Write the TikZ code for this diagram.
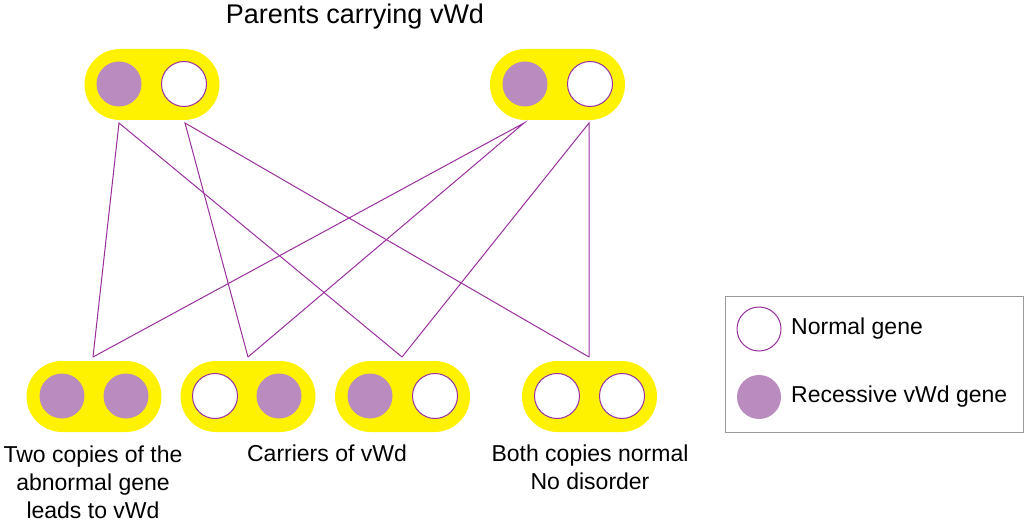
\documentclass[tikz,border=0pt]{standalone}
\usepackage{fontspec}
\setmainfont{Liberation Sans}
\definecolor{pillyellow}{HTML}{FFF200}
\definecolor{genepurple}{HTML}{B98BBE}
\definecolor{linepurple}{HTML}{9A2F9E}
\definecolor{boxgray}{HTML}{9A9A9A}
\tikzset{
  pill/.style={fill=pillyellow, draw=none, rounded corners=35.5pt, minimum width=135pt, minimum height=71pt, inner sep=0pt},
  rec/.style={circle, fill=genepurple, draw=none, minimum size=45pt, inner sep=0pt},
  nor/.style={circle, fill=white, draw=linepurple, line width=1pt, minimum size=45pt, inner sep=0pt},
  link/.style={draw=linepurple, line width=1pt},
  lbl/.style={font=\fontsize{23}{28}\selectfont, align=center, inner sep=0pt, anchor=base}
}
\begin{document}
\begin{tikzpicture}[x=1pt, y=-1pt]
\useasboundingbox (0,0) rectangle (1024,526);
% title
\node[lbl, font=\fontsize{27}{32}\selectfont] (title) at (355,24) {Parents carrying vWd};
% parents
\node[pill] (P1) at (152,84.5) {};
\node[rec] (P1a) at (119,84) {};
\node[nor] (P1b) at (184,84) {};
\node[pill] (P2) at (557.5,84.5) {};
\node[rec] (P2a) at (525,84) {};
\node[nor] (P2b) at (590,84) {};
% children
\node[pill] (C1) at (94,396.5) {};
\node[rec] (C1a) at (62,396) {};
\node[rec] (C1b) at (126,396) {};
\node[pill] (C2) at (248,396.5) {};
\node[nor] (C2a) at (215,396) {};
\node[rec] (C2b) at (279,396) {};
\node[pill] (C3) at (402.5,396.5) {};
\node[rec] (C3a) at (370,396) {};
\node[nor] (C3b) at (435,396) {};
\node[pill] (C4) at (589.5,396.5) {};
\node[nor] (C4a) at (557,396) {};
\node[nor] (C4b) at (622,396) {};
% connector ends
\coordinate (p1a) at (119,123);
\coordinate (p1b) at (185,123);
\coordinate (p2a) at (524,123);
\coordinate (p2b) at (589,123);
\coordinate (c1) at (93,357);
\coordinate (c2) at (248,357);
\coordinate (c3) at (402,357);
\coordinate (c4) at (589,357);
\draw[link] (c1) -- (p1a) -- (c3);
\draw[link] (c2) -- (p1b) -- (c4);
\draw[link] (c1) -- (p2a) -- (c2);
\draw[link] (c3) -- (p2b) -- (c4);
% labels (base = last line's baseline)
\node[lbl] (L1) at (93,518) {Two copies of the\\abnormal gene\\leads to vWd};
\node[lbl] (L2) at (327,461) {Carriers of vWd};
\node[lbl] (L3) at (590,489) {Both copies normal\\No disorder};
% legend
\node[draw=boxgray, line width=1pt, minimum width=298pt, minimum height=136pt, inner sep=0pt] (legend) at (874,364) {};
\node[nor, minimum size=44pt] (LN) at (759,329) {};
\node[rec, minimum size=44pt] (LR) at (759,397) {};
\node[lbl, anchor=west] (LNt) at (791,329) {Normal gene};
\node[lbl, anchor=west] (LRt) at (791,397) {Recessive vWd gene};
\end{tikzpicture}
\end{document}
